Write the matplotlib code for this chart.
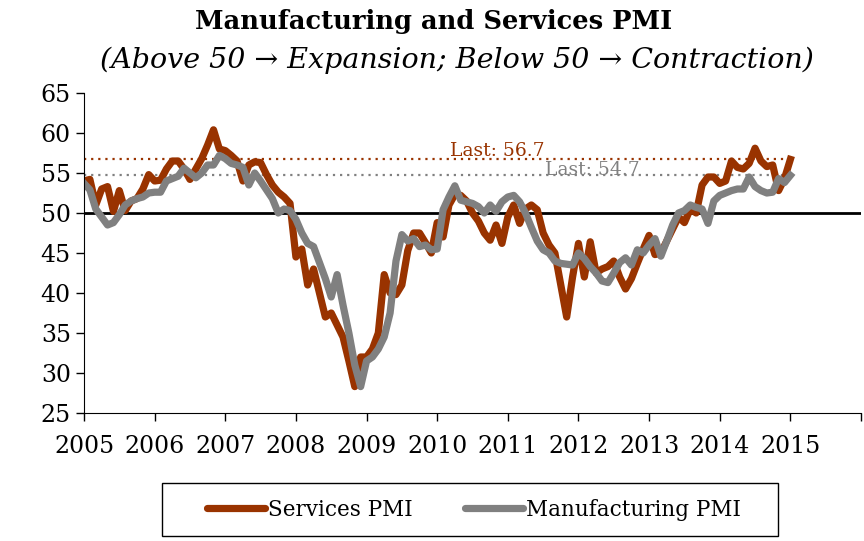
import numpy as np
import matplotlib
matplotlib.use("Agg")
import matplotlib.pyplot as plt
from matplotlib.patches import Rectangle

# monthly readings, Jan 2005 .. Jan 2015
services = [
    54.0, 54.2, 51.0, 53.0, 53.3, 50.2, 52.8, 50.3, 51.5, 51.8, 53.0, 54.8,
    54.0, 54.1, 55.5, 56.5, 56.5, 55.5, 54.2, 55.5, 56.8, 58.5, 60.4, 58.0,
    57.8, 57.2, 56.5, 54.0, 56.0, 56.4, 56.3, 54.8, 53.5, 52.6, 52.0, 51.2,
    44.5, 45.5, 41.0, 43.0, 40.0, 37.0, 37.5, 36.0, 34.5, 31.5, 28.3, 32.0,
    32.0, 33.0, 35.0, 42.3, 40.0, 39.8, 41.0, 45.3, 47.5, 47.5, 46.3, 45.0,
    48.8, 47.0, 51.0, 52.3, 52.2, 51.5, 50.0, 49.0, 47.5, 46.6, 48.5, 46.2,
    49.5, 51.0, 48.7, 50.5, 51.0, 50.4, 47.5, 46.0, 45.0, 41.0, 37.0, 42.0,
    46.2, 42.0, 46.4, 42.5, 43.0, 43.3, 44.0, 42.0, 40.5, 41.8, 43.7, 45.5,
    47.2, 44.8, 45.0, 46.5, 48.0, 49.5, 48.8, 50.5, 50.0, 53.5, 54.5, 54.5,
    53.7, 54.0, 56.5, 55.7, 55.5, 56.2, 58.1, 56.5, 55.8, 56.0, 52.8, 54.3,
    56.7,
]
manufacturing = [
    53.7, 52.9, 50.5, 49.5, 48.5, 48.8, 49.8, 51.0, 51.5, 51.8, 52.0, 52.5,
    52.6, 52.6, 54.0, 54.3, 54.6, 55.6, 55.0, 54.4, 55.0, 56.0, 56.0, 57.2,
    56.8, 56.2, 56.0, 55.7, 53.5, 55.0, 54.0, 52.9, 51.8, 50.0, 50.5, 50.3,
    49.2, 47.5, 46.2, 45.8, 43.8, 41.8, 39.5, 42.3, 38.5, 35.0, 31.0, 28.3,
    31.5, 32.0, 33.0, 34.5, 37.5, 44.0, 47.3, 46.5, 46.8, 45.8, 46.0, 45.4,
    45.5, 50.4, 52.0, 53.4, 51.6, 51.4, 51.2, 50.8, 50.0, 51.0, 50.2, 51.4,
    52.0, 52.2, 51.4, 50.0, 48.2, 46.5, 45.4, 45.0, 44.0, 43.7, 43.6, 43.5,
    45.0, 44.3, 43.3, 42.5, 41.5, 41.3, 42.5, 43.8, 44.4, 43.5, 45.4, 45.0,
    46.0, 46.8, 44.6, 46.5, 48.5, 50.0, 50.3, 51.0, 50.7, 50.5, 48.7, 51.5,
    52.2, 52.5, 52.8, 53.0, 53.0, 54.5, 53.3, 52.8, 52.5, 52.6, 54.3, 53.8,
    54.7,
]
years = list(range(2005, 2016))

dates = 2005 + np.arange(len(services)) / 12.0

plt.rcParams['font.family'] = 'DejaVu Serif'

fig = plt.figure(figsize=(8.64, 5.41), dpi=100)
ax = fig.add_axes([84/864, 1-413/541, 777/864, 320/541])

brown = '#993300'
grey = '#808080'

ax.plot(dates, services, color=brown, lw=5.2, solid_joinstyle='round', label='Services PMI')
ax.plot(dates, manufacturing, color=grey, lw=5.2, solid_joinstyle='round', label='Manufacturing PMI')

ax.axhline(50, color='black', lw=2, zorder=1)
ax.plot([dates[0], dates[-1]], [services[-1]] * 2, color=brown, lw=1.6, ls=(0, (1, 2.2)), zorder=0.5)
ax.plot([dates[0], dates[-1]], [manufacturing[-1]] * 2, color=grey, lw=1.6, ls=(0, (1, 2.2)), zorder=0.5)
ax.text(2010.85, services[-1] - 0.1, 'Last: %.1f' % services[-1], color=brown, fontsize=13.5, va='bottom', ha='center')
ax.text(2012.19, manufacturing[-1] - 0.45, 'Last: %.1f' % manufacturing[-1], color=grey, fontsize=13.5, va='bottom', ha='center')

ax.set_xlim(2005, 2016)
ax.set_ylim(25, 65)
ax.set_yticks(range(25, 66, 5))
ax.set_xticks(range(2005, 2017))
ax.set_xticklabels([str(y) for y in years] + [''])
ax.tick_params(axis='both', labelsize=17, direction='out', length=6, width=1)
ax.tick_params(axis='x', pad=10)
for s in ['top', 'right']:
    ax.spines[s].set_visible(False)

fig.text(434/864, 1-22/541, 'Manufacturing and Services PMI', ha='center', va='center', fontsize=18.5, fontweight='bold')
fig.text(457/864, 1-60/541, '(Above 50 \u2192 Expansion; Below 50 \u2192 Contraction)', ha='center', va='center',
         fontsize=20.5, fontstyle='italic')

# legend with a hand-placed frame
leg = fig.legend(loc='center', bbox_to_anchor=(474/864, 1-510/541), ncol=2, fontsize=15.5,
                 frameon=False, handlelength=2.7, handletextpad=0.15, columnspacing=2.4)
for h in leg.get_lines():
    h.set_solid_capstyle('round')
fig.patches.append(Rectangle((162/864, 1-536/541), 616/864, 53/541, transform=fig.transFigure,
                             fill=False, edgecolor='black', lw=1))

fig.savefig('out.png', dpi=100)
